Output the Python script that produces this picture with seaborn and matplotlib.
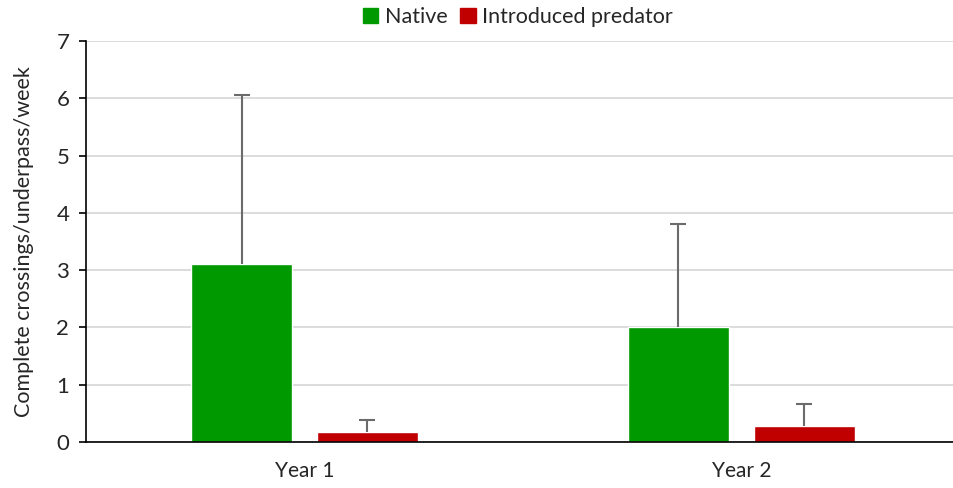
import matplotlib
matplotlib.use("Agg")
import matplotlib.pyplot as plt
import seaborn as sns
import pandas as pd

years = ["Year 1", "Year 2"]
groups = ["Native", "Introduced predator"]
native = [3.1, 2.0]
predator = [0.17, 0.28]
native_err = [2.95, 1.8]
predator_err = [0.21, 0.39]
colors = {"Native": "#009900", "Introduced predator": "#c00000"}

df = pd.DataFrame({
    "year": years * 2,
    "group": [groups[0]] * 2 + [groups[1]] * 2,
    "value": native + predator,
    "err": native_err + predator_err,
})

sns.set_style("white")
plt.rcParams["font.family"] = ["Lato", "DejaVu Sans"]

fig = plt.figure(figsize=(9.54, 4.88), dpi=100)
ax = fig.add_axes([0.0901, 0.0943, 0.916, 0.8217])

sns.barplot(data=df, x="year", y="value", hue="group", hue_order=groups,
            palette=colors, width=0.576, gap=0.2, errorbar=None,
            saturation=1, ax=ax, zorder=2)

# one-sided error bars on top of each bar
for cont, g in zip(ax.containers, groups):
    sub = df[df["group"] == g]
    xs = [p.get_x() + p.get_width() / 2 for p in cont.patches]
    eb = ax.errorbar(xs, sub["value"], yerr=[[0] * len(sub), sub["err"]],
                     fmt="none", ecolor="#6b6b6b", elinewidth=1.5,
                     capsize=6, capthick=1.5, zorder=3)
    eb[1][0].set_visible(False)  # hide lower cap

ax.set_xlim(-0.5, 1.5)
ax.set_ylim(0, 7)
ax.set_yticks(range(0, 8))
ax.yaxis.grid(True, color="#d9d9d9", linewidth=1.3, zorder=0)
ax.set_axisbelow(True)

ax.set_xticks([-0.5, 0.5, 1.5], minor=True)
ax.tick_params(axis="x", which="major", length=0, labelsize=15, pad=14)
ax.tick_params(axis="x", which="minor", length=7, width=1.2, color="black", direction="out")
ax.tick_params(axis="y", length=5, width=1.2, color="black", labelsize=16, left=True, pad=7)

for s in ["top", "right"]:
    ax.spines[s].set_visible(False)
for s in ["left", "bottom"]:
    ax.spines[s].set_color("black")
    ax.spines[s].set_linewidth(1.2)

ax.set_xlabel("")
ax.set_ylabel("Complete crossings/underpass/week", fontsize=15.5, labelpad=16)

ax.legend_.remove()
handles = [plt.Rectangle((0, 0), 1, 1, color=colors[g]) for g in groups]
fig.legend(handles, groups, loc="center", bbox_to_anchor=(0.543, 0.965), ncol=2,
           frameon=False, fontsize=15.5, handlelength=0.7, handleheight=0.7,
           handletextpad=0.3, columnspacing=0.6)

fig.savefig("out.png", dpi=100)
